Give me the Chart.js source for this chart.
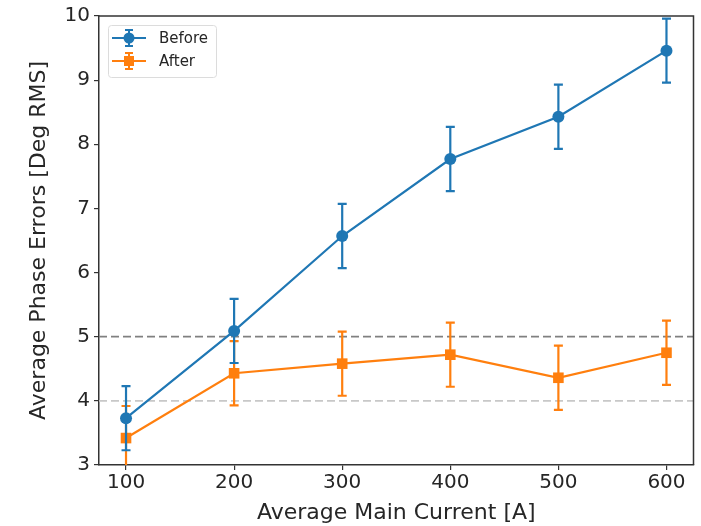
<!DOCTYPE html>
<html>
<head>
<meta charset="utf-8">
<script src="https://cdn.jsdelivr.net/npm/chart.js@4"></script>
<style>
  html, body { margin: 0; padding: 0; background: #fff; }
  #wrap { width: 701px; height: 526px; }
</style>
</head>
<body>
<div id="wrap"><canvas id="errChart" width="701" height="526"></canvas></div>
<script>
const currents = [100, 200, 300, 400, 500, 600];
const beforeVals = [3.73, 5.09, 6.57, 7.77, 8.43, 9.46];
const beforeErr = [0.5, 0.5, 0.5, 0.5, 0.5, 0.5];
const afterVals = [3.42, 4.43, 4.58, 4.72, 4.36, 4.75];
const afterErr = [0.5, 0.5, 0.5, 0.5, 0.5, 0.5];
const xTicks = [100, 200, 300, 400, 500, 600];
const yTicks = [3, 4, 5, 6, 7, 8, 9, 10];
const refLines = [5, 4];

const BLUE = "#1f77b4";
const ORANGE = "#ff7f0e";
const FONT = "'DejaVu Sans', sans-serif";

const toPoints = (xs, ys) => xs.map((x, i) => ({ x: x, y: ys[i] }));

// dashed reference lines, under the data
const refLinePlugin = {
    id: "refLines",
    beforeDatasetsDraw(chart) {
        const { ctx, chartArea, scales } = chart;
        const colors = ["#808080", "#c8c8c8"];
        ctx.save();
        ctx.lineWidth = 1.8;
        ctx.setLineDash([8, 4]);
        refLines.forEach((v, i) => {
            const y = scales.y.getPixelForValue(v);
            ctx.strokeStyle = colors[i];
            ctx.beginPath();
            ctx.moveTo(chartArea.left, y);
            ctx.lineTo(chartArea.right, y);
            ctx.stroke();
        });
        ctx.restore();
    }
};

// vertical error bars with caps
const errorBarPlugin = {
    id: "errorBars",
    afterDatasetDraw(chart, args) {
        const { ctx, chartArea, scales } = chart;
        const ds = chart.data.datasets[args.index];
        if (!ds.errors) return;
        ctx.save();
        ctx.beginPath();
        ctx.rect(chartArea.left, chartArea.top, chartArea.right - chartArea.left, chartArea.bottom - chartArea.top);
        ctx.clip();
        ctx.strokeStyle = ds.borderColor;
        ctx.lineWidth = 2.2;
        ds.data.forEach((p, i) => {
            const x = scales.x.getPixelForValue(p.x);
            const yTop = scales.y.getPixelForValue(p.y + ds.errors[i]);
            const yBot = scales.y.getPixelForValue(p.y - ds.errors[i]);
            ctx.beginPath();
            ctx.moveTo(x, yTop);
            ctx.lineTo(x, yBot);
            ctx.moveTo(x - 4.5, yTop);
            ctx.lineTo(x + 4.5, yTop);
            ctx.moveTo(x - 4.5, yBot);
            ctx.lineTo(x + 4.5, yBot);
            ctx.stroke();
        });
        ctx.restore();
    }
};

// top and right spines
const framePlugin = {
    id: "frame",
    afterDraw(chart) {
        const { ctx, chartArea } = chart;
        ctx.save();
        ctx.strokeStyle = "#333";
        ctx.lineWidth = 1.5;
        ctx.beginPath();
        ctx.moveTo(chartArea.left, chartArea.top);
        ctx.lineTo(chartArea.right, chartArea.top);
        ctx.lineTo(chartArea.right, chartArea.bottom);
        ctx.stroke();
        ctx.restore();
    }
};

// matplotlib style legend inside the plot, upper left
const legendPlugin = {
    id: "mplLegend",
    afterDraw(chart) {
        const { ctx, chartArea } = chart;
        const x0 = chartArea.left + 9;
        const y0 = chartArea.top + 9;
        const w = 108, h = 52;
        ctx.save();
        ctx.fillStyle = "rgba(255,255,255,0.8)";
        ctx.strokeStyle = "#dcdcdc";
        ctx.lineWidth = 1;
        ctx.beginPath();
        ctx.roundRect(x0 + 0.5, y0 + 0.5, w, h, 3);
        ctx.fill();
        ctx.stroke();
        chart.data.datasets.forEach((ds, i) => {
            const cy = y0 + 13 + i * 23;
            const lx = x0 + 4, rx = x0 + 38, mx = (lx + rx) / 2;
            ctx.strokeStyle = ds.borderColor;
            ctx.fillStyle = ds.borderColor;
            ctx.lineWidth = 2;
            ctx.beginPath();
            ctx.moveTo(lx, cy);
            ctx.lineTo(rx, cy);
            ctx.moveTo(mx, cy - 8);
            ctx.lineTo(mx, cy + 8);
            ctx.moveTo(mx - 4, cy - 8);
            ctx.lineTo(mx + 4, cy - 8);
            ctx.moveTo(mx - 4, cy + 8);
            ctx.lineTo(mx + 4, cy + 8);
            ctx.stroke();
            if (ds.pointStyle === "rect") {
                ctx.fillRect(mx - 5, cy - 5, 10, 10);
            } else {
                ctx.beginPath();
                ctx.arc(mx, cy, 5.5, 0, Math.PI * 2);
                ctx.fill();
            }
            ctx.fillStyle = "#262626";
            ctx.font = "15px " + FONT;
            ctx.textBaseline = "middle";
            ctx.fillText(ds.label, x0 + 51, cy + 1);
        });
        ctx.restore();
    }
};

const ctx = document.getElementById("errChart").getContext("2d");

new Chart(ctx, {
    type: "line",
    data: {
        datasets: [{
            label: "Before",
            data: toPoints(currents, beforeVals),
            errors: beforeErr,
            borderColor: BLUE,
            backgroundColor: BLUE,
            borderWidth: 2.2,
            pointStyle: "circle",
            pointRadius: 6,
            pointBorderWidth: 0,
            tension: 0
        }, {
            label: "After",
            data: toPoints(currents, afterVals),
            errors: afterErr,
            borderColor: ORANGE,
            backgroundColor: ORANGE,
            borderWidth: 2.2,
            pointStyle: "rect",
            pointRadius: 7.5,
            pointBorderWidth: 0,
            tension: 0
        }]
    },
    options: {
        responsive: false,
        animation: false,
        clip: false,
        layout: { padding: { top: 16, right: 7, left: 22, bottom: 0 } },
        plugins: {
            legend: { display: false },
            tooltip: { enabled: false }
        },
        scales: {
            x: {
                type: "linear",
                min: 75,
                max: 625,
                afterBuildTicks: axis => { axis.ticks = xTicks.map(v => ({ value: v })); },
                afterFit: axis => { axis.height = 61; },
                grid: { drawOnChartArea: false, tickLength: 5, color: "#333", lineWidth: 1.2 },
                border: { color: "#333", width: 1.5 },
                ticks: { color: "#262626", font: { family: FONT, size: 20 }, padding: 1, maxRotation: 0 },
                title: { display: true, text: "Average Main Current [A]", color: "#262626", font: { family: FONT, size: 22 }, padding: { top: 0, bottom: 0 } }
            },
            y: {
                min: 3,
                max: 10,
                afterBuildTicks: axis => { axis.ticks = yTicks.map(v => ({ value: v })); },
                afterFit: axis => { axis.width = 77; },
                grid: { drawOnChartArea: false, tickLength: 5, color: "#333", lineWidth: 1.2 },
                border: { color: "#333", width: 1.5 },
                ticks: { color: "#262626", font: { family: FONT, size: 20 }, padding: 4 },
                title: { display: true, text: "Average Phase Errors [Deg RMS]", color: "#262626", font: { family: FONT, size: 22 }, padding: { top: 4, bottom: 0 } }
            }
        }
    },
    plugins: [refLinePlugin, errorBarPlugin, framePlugin, legendPlugin]
});
</script>
</body>
</html>
